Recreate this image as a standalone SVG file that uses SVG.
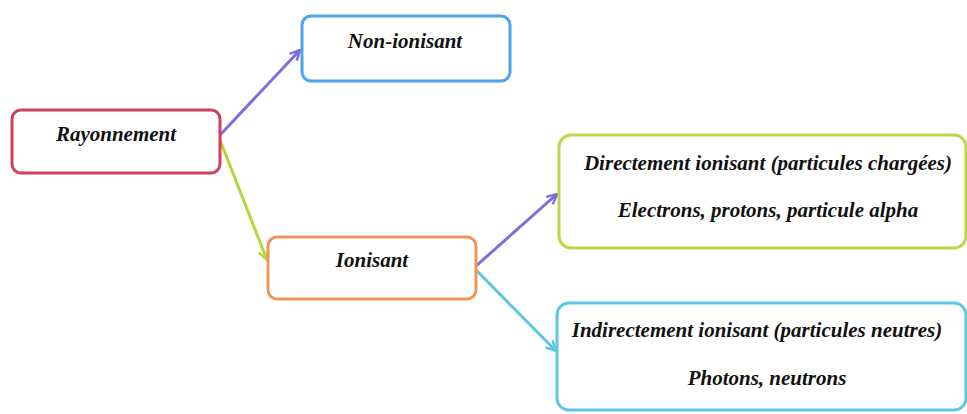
<svg xmlns="http://www.w3.org/2000/svg" width="967" height="414" viewBox="0 0 967 414">
<style>
.box{fill:#fff;stroke-width:3}
.t{font-family:"Liberation Serif","Times New Roman",serif;font-style:italic;font-weight:bold;font-size:21px;fill:#111;text-anchor:middle}
.c{fill:none;stroke-width:3}
</style>
<defs>
<marker id="aP" viewBox="0 0 12 12" refX="11" refY="6" markerWidth="12" markerHeight="12" markerUnits="userSpaceOnUse" orient="auto"><polyline points="1,1 11,6 1,11" fill="none" stroke="#7a6ee0" stroke-width="2.5"/></marker>
<marker id="aG" viewBox="0 0 12 12" refX="11" refY="6" markerWidth="12" markerHeight="12" markerUnits="userSpaceOnUse" orient="auto"><polyline points="1,1 11,6 1,11" fill="none" stroke="#b3d83c" stroke-width="2.5"/></marker>
<marker id="aC" viewBox="0 0 12 12" refX="11" refY="6" markerWidth="12" markerHeight="12" markerUnits="userSpaceOnUse" orient="auto"><polyline points="1,1 11,6 1,11" fill="none" stroke="#5cc6e2" stroke-width="2.5"/></marker>
</defs>
<rect width="967" height="414" fill="#fff"/>
<g id="connectors">
<line class="c" x1="220" y1="135" x2="300" y2="50" stroke="#7a6ee0" marker-end="url(#aP)"/>
<line class="c" x1="220" y1="140" x2="267" y2="260" stroke="#b3d83c" marker-end="url(#aG)"/>
<line class="c" x1="476" y1="266" x2="557" y2="194" stroke="#7a6ee0" marker-end="url(#aP)"/>
<line class="c" x1="476" y1="270" x2="556" y2="351" stroke="#5cc6e2" marker-end="url(#aC)"/>
</g>
<g id="rayonnement">
<rect class="box" x="12" y="110" width="208" height="63" rx="9" stroke="#d2415c"/>
<text class="t" x="116" y="141">Rayonnement</text>
</g>
<g id="non-ionisant">
<rect class="box" x="302" y="16" width="208" height="65" rx="9" stroke="#4fa3ec"/>
<text class="t" x="405" y="48">Non-ionisant</text>
</g>
<g id="ionisant">
<rect class="box" x="268" y="237" width="208" height="62" rx="9" stroke="#f2955a"/>
<text class="t" x="372" y="267">Ionisant</text>
</g>
<g id="directement">
<rect class="box" x="559" y="135" width="407" height="113" rx="12" stroke="#b8d846"/>
<text class="t" x="768" y="170">Directement ionisant (particules chargées)</text>
<text class="t" x="768" y="217">Electrons, protons, particule alpha</text>
</g>
<g id="indirectement">
<rect class="box" x="557" y="303" width="409" height="107" rx="12" stroke="#5cc8e2"/>
<text class="t" x="757" y="337">Indirectement ionisant (particules neutres)</text>
<text class="t" x="767" y="385">Photons, neutrons</text>
</g>
</svg>
